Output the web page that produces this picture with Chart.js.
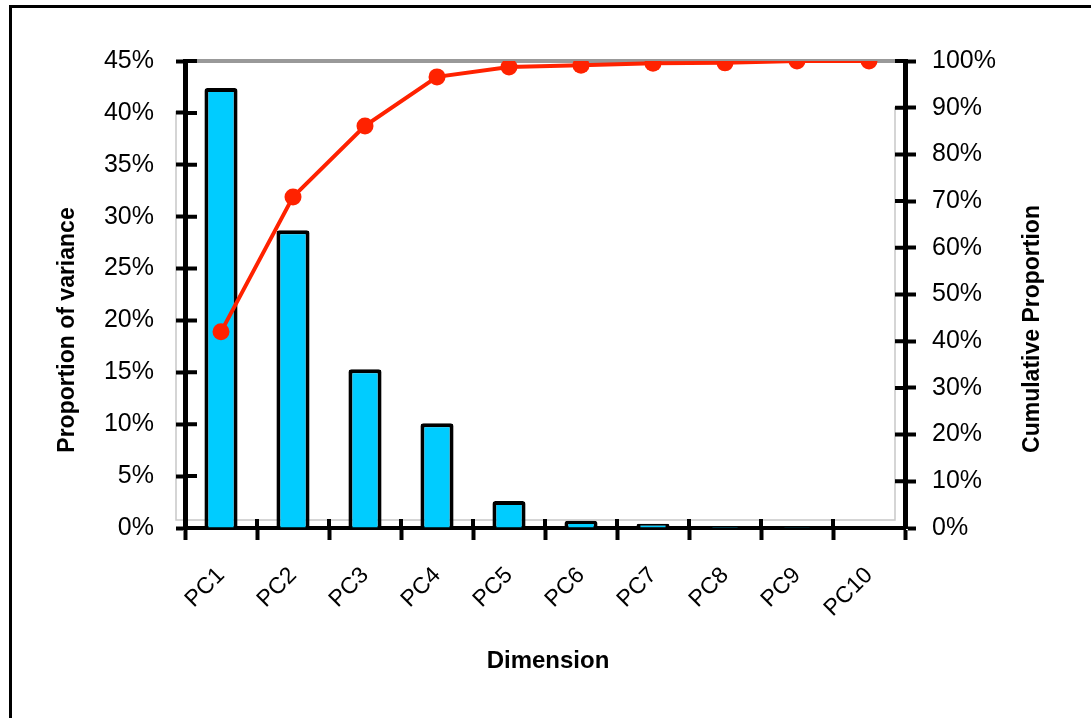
<!DOCTYPE html>
<html>
<head>
<meta charset="utf-8">
<script src="https://cdn.jsdelivr.net/npm/chart.js@4/dist/chart.umd.min.js"></script>
<style>
  html, body { margin: 0; padding: 0; background: #fff; overflow: hidden; }
  #frame { position: absolute; left: 9px; top: 5px; width: 1200px; height: 800px; border: 3px solid #000; box-sizing: border-box; }
  #wrap { position: absolute; left: 0; top: 0; width: 1091px; height: 718px; }
</style>
</head>
<body>
<div id="frame"></div>
<div id="wrap"><canvas id="c" width="1091" height="718"></canvas></div>
<script>
const categories = ['PC1', 'PC2', 'PC3', 'PC4', 'PC5', 'PC6', 'PC7', 'PC8', 'PC9', 'PC10'];
const proportionOfVariance = [42.4, 28.7, 15.3, 10.1, 2.6, 0.7, 0.4, 0.15, 0.1, 0.05];
const cumulativeProportion = [42.0, 70.9, 86.1, 96.6, 98.7, 99.1, 99.5, 99.6, 100, 100];
const leftAxisMax = 45, leftAxisStep = 5;
const rightAxisMax = 100, rightAxisStep = 10;
const titles = { left: 'Proportion of variance', right: 'Cumulative Proportion', bottom: 'Dimension' };

const FONT = "'Liberation Sans', Arial, Helvetica, sans-serif";

const decorPlugin = {
  id: 'decor',
  beforeDraw(chart) {
    const ctx = chart.ctx, a = chart.chartArea;
    ctx.save();
    ctx.strokeStyle = '#c8c8c8';
    ctx.lineWidth = 1.5;
    ctx.beginPath();
    ctx.moveTo(a.left - 9, a.top + 50); ctx.lineTo(a.left - 9, a.bottom - 8);
    ctx.lineTo(a.right - 10, a.bottom - 8); ctx.lineTo(a.right - 10, a.top + 46);
    ctx.stroke();
    ctx.strokeStyle = '#999999';
    ctx.lineWidth = 4;
    ctx.beginPath();
    ctx.moveTo(a.left + 12, a.top); ctx.lineTo(a.right - 10, a.top);
    ctx.stroke();
    ctx.restore();
  },
  beforeDatasetsDraw(chart) {
    const ctx = chart.ctx, a = chart.chartArea;
    const sx = chart.scales.x, sy = chart.scales.y, sy2 = chart.scales.y2;
    ctx.save();
    ctx.strokeStyle = '#000';
    ctx.lineWidth = 4;
    ctx.beginPath();
    sy.ticks.forEach((t, i) => {
      const y = sy.getPixelForTick(i);
      ctx.moveTo(a.left, y); ctx.lineTo(a.left + 12, y);
    });
    sy2.ticks.forEach((t, i) => {
      const y = sy2.getPixelForTick(i);
      ctx.moveTo(a.right - 10, y); ctx.lineTo(a.right, y);
    });
    for (let i = 1; i < categories.length; i++) {
      const x = (sx.getPixelForTick(i - 1) + sx.getPixelForTick(i)) / 2;
      ctx.moveTo(x, a.bottom); ctx.lineTo(x, a.bottom - 9);
    }
    ctx.stroke();
    ctx.restore();
  },
  afterDraw(chart) {
    const ctx = chart.ctx;
    ctx.save();
    ctx.fillStyle = '#000';
    ctx.textAlign = 'center';
    ctx.textBaseline = 'middle';
    ctx.font = 'bold 23px ' + FONT;
    ctx.save();
    ctx.translate(68, 330);
    ctx.rotate(-Math.PI / 2);
    ctx.fillText(titles.left, 0, 0);
    ctx.restore();
    ctx.save();
    ctx.translate(1033, 329);
    ctx.rotate(-Math.PI / 2);
    ctx.fillText(titles.right, 0, 0);
    ctx.restore();
    ctx.font = 'bold 24px ' + FONT;
    ctx.fillText(titles.bottom, 548, 661);
    ctx.restore();
  }
};

new Chart(document.getElementById('c'), {
  type: 'bar',
  data: {
    labels: categories,
    datasets: [
      {
        type: 'line',
        label: 'Cumulative Proportion',
        data: cumulativeProportion,
        yAxisID: 'y2',
        borderColor: '#FF2200',
        backgroundColor: '#FF2200',
        borderWidth: 4,
        pointRadius: 8.5,
        pointBorderWidth: 0,
        pointStyle: 'circle',
        tension: 0,
        order: 0
      },
      {
        type: 'bar',
        label: 'Proportion of variance',
        data: proportionOfVariance,
        yAxisID: 'y',
        backgroundColor: '#00CCFF',
        borderColor: '#000000',
        borderWidth: 4,
        borderSkipped: 'bottom',
        borderRadius: { topLeft: 3, topRight: 3, bottomLeft: 0, bottomRight: 0 },
        barPercentage: 0.46,
        categoryPercentage: 1.0,
        order: 1
      }
    ]
  },
  options: {
    responsive: false,
    animation: false,
    layout: { padding: { top: 61, left: 0, right: 0, bottom: 0 } },
    plugins: { legend: { display: false }, tooltip: { enabled: false } },
    scales: {
      x: {
        offset: true,
        grid: { offset: true, drawOnChartArea: false, drawTicks: true, tickLength: 12, tickWidth: 4, tickColor: '#000' },
        border: { display: true, color: '#000', width: 4 },
        ticks: { minRotation: 45, maxRotation: 45, autoSkip: false, color: '#000', padding: 22, font: { family: FONT, size: 23 } },
        afterFit(s) { s.height = 190; }
      },
      y: {
        position: 'left',
        min: 0, max: leftAxisMax,
        grid: { drawOnChartArea: false, drawTicks: true, tickLength: 9, tickWidth: 4, tickColor: '#000' },
        border: { display: true, color: '#000', width: 5 },
        ticks: { stepSize: leftAxisStep, color: '#000', padding: 22, font: { family: FONT, size: 25 }, callback: v => v + '%' },
        afterFit(s) { s.width = 185; }
      },
      y2: {
        position: 'right',
        min: 0, max: rightAxisMax,
        grid: { drawOnChartArea: false, drawTicks: true, tickLength: 11, tickWidth: 4, tickColor: '#000' },
        border: { display: true, color: '#000', width: 5 },
        ticks: { stepSize: rightAxisStep, color: '#000', padding: 16, font: { family: FONT, size: 25 }, callback: v => v + '%' },
        afterFit(s) { s.width = 186; }
      }
    }
  },
  plugins: [decorPlugin]
});
</script>
</body>
</html>
